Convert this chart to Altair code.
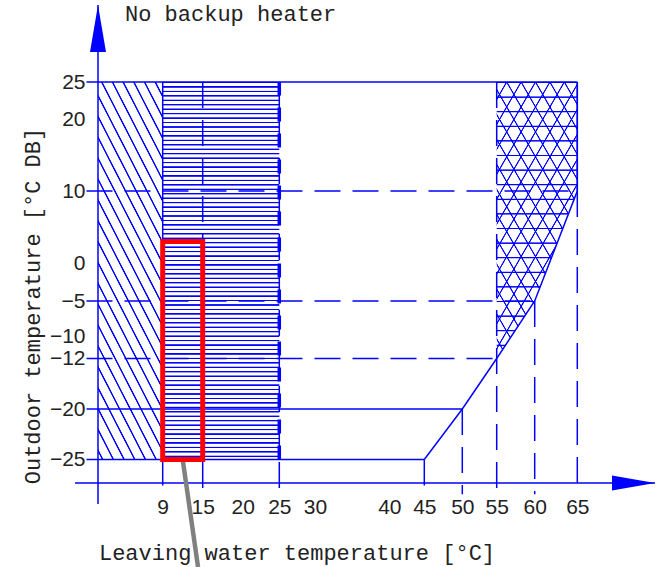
import math
import altair as alt
import numpy as np
import pandas as pd

# ------------------------------------------------------------------
# Data
# ------------------------------------------------------------------
X_TICKS = [9, 15, 20, 25, 30, 40, 45, 50, 55, 60, 65]          # leaving water temp labels
Y_TICKS = [25, 20, 10, 0, -5, -10, -12, -20, -25]               # outdoor temp labels

# upper limit of leaving water temperature vs outdoor temperature
LIMIT_LWT = [45, 50, 55, 60, 65, 65]
LIMIT_OAT = [-25, -20, -12, -5, 10, 25]

# horizontal reference lines: outdoor temp, right end (LWT), solid?
H_OAT = [25, 10, -5, -12, -20, -25]
H_END = [65, 65, 60, 55, 50, 45]
H_SOLID = [True, False, False, False, True, True]

# vertical dashed reference lines: LWT and their top (outdoor temp)
V_LWT = [9, 15, 25, 45, 50, 55, 60, 65]
V_TOP = [-25, 25, 25, -25, -20, 25, -5, 10]

# extra solid edges: (lwt, oat_from, oat_to)
EDGE_LWT = [9, 65]
EDGE_FROM = [-25, 10]
EDGE_TO = [25, 25]

# zones
ZONE_A = dict(x0=0, x1=9, y0=-25, y1=25)      # diagonal hatch
ZONE_B = dict(x0=9, x1=25, y0=-25, y1=25)     # horizontal hatch
ZONE_C_OAT = [25, 10, -5, -12]                # cross hatch (55 .. limit)
ZONE_C_LWT = [65, 65, 60, 55]
ZONE_C_BASE = 55

RED_BOX = dict(x0=9, x1=15, y0=-25, y1=3)
LEADER_LWT = [12, 14.3]
LEADER_OAT = [-25, -42]

# axis geometry in data units
X_START, X_END = -3, 75
Y_START, Y_END = -33, 36
AXIS_AT_LWT = 0
AXIS_AT_OAT = -30
TICK_LEFT = -1.5
TICK_END = -31.6

# schematic (piecewise) scales
X_DOMAIN = [-3, 0, 9, 15, 20, 25, 30, 40, 45, 50, 55, 60, 65, 75]
X_RANGE = [75, 98, 162.7, 202.7, 242.7, 279.3, 315, 389.3, 424.3, 462.3, 496.7, 534.7, 577.3, 655]
Y_DOMAIN = [-33, -30, -25, -20, -12, -10, -5, 0, 10, 20, 25, 36]
Y_RANGE = [504, 483, 459.5, 409, 358.5, 336.3, 301, 263, 191, 119, 82, 5]

BLUE = "#0000ff"
OFF = "rgba(0,0,255,0)"
TXT = "#222222"

# ------------------------------------------------------------------
# hatch patterns as gradient fills
# ------------------------------------------------------------------
def px(v, dom, rng):
    return float(np.interp(v, dom, rng))


def make_stops(centers, hw, aa):
    stops = []
    last = 0.0
    for c in sorted(centers):
        for o, col in ((c - hw - aa, OFF), (c - hw, BLUE), (c + hw, BLUE), (c + hw + aa, OFF)):
            o = round(min(1.0, max(0.0, o)), 6)
            o = max(o, last)
            last = o
            stops.append(alt.GradientStop(color=col, offset=o))
    return stops


def hgrad(h, spacing, phase, hw_px, aa_px):
    centers = []
    k = 0
    while phase + k * spacing <= h:
        centers.append((phase + k * spacing) / h)
        k += 1
    return alt.LinearGradient(gradient="linear", x1=0, y1=0, x2=0, y2=1,
                              stops=make_stops(centers, hw_px / h, aa_px / h))


def dgrad(w, h, s, spacing_x, x0, hw_px, aa_px, mirror=False):
    L = s * w + h
    lam = L / (s * s * w * w + h * h)
    if not mirror:
        x1, y1, x2, y2 = 0, 1, lam * s * w, 1 - lam * h
        base = (s * x0 + h) / L
    else:
        x1, y1, x2, y2 = 1, 1, 1 - lam * s * w, 1 - lam * h
        base = (s * (w - x0) + h) / L
    period = s * spacing_x / L
    kmin = math.floor(-base / period) - 1
    kmax = math.ceil((1 - base) / period) + 1
    centers = [base + k * period for k in range(kmin, kmax + 1) if 0 <= base + k * period <= 1]
    f = math.sqrt(1 + s * s) / L
    return alt.LinearGradient(gradient="linear", x1=x1, y1=y1, x2=x2, y2=y2,
                              stops=make_stops(centers, hw_px * f, aa_px * f))


def box_size(z):
    w = abs(px(z["x1"], X_DOMAIN, X_RANGE) - px(z["x0"], X_DOMAIN, X_RANGE))
    h = abs(px(z["y1"], Y_DOMAIN, Y_RANGE) - px(z["y0"], Y_DOMAIN, Y_RANGE))
    return w, h


wA, hA = box_size(ZONE_A)
gradA = dgrad(wA, hA, 1.95, 10.7, 3.7, 0.4, 0.65)
wB, hB = box_size(ZONE_B)
gradB = hgrad(hB, 4.45, 0.5, 0.45, 0.5)
wC = px(65, X_DOMAIN, X_RANGE) - px(55, X_DOMAIN, X_RANGE)
hC = px(-12, Y_DOMAIN, Y_RANGE) - px(25, Y_DOMAIN, Y_RANGE)
gradC_h = hgrad(hC, 14.6, 0.5, 0.35, 0.6)
gradC_d1 = dgrad(wC, hC, math.sqrt(3), 14.4, 10, 0.3, 0.6)
gradC_d2 = dgrad(wC, hC, math.sqrt(3), 14.4, 10, 0.3, 0.6, mirror=True)

# ------------------------------------------------------------------
# scales / axes
# ------------------------------------------------------------------
XS = alt.Scale(domain=X_DOMAIN, range=X_RANGE, nice=False, zero=False)
YS = alt.Scale(domain=Y_DOMAIN, range=Y_RANGE, nice=False, zero=False)
MINUS = "datum.value < 0 ? '\u2212' + abs(datum.value) : '' + datum.value"
LBL = dict(labelFont="Liberation Sans", labelFontSize=21, labelColor=TXT,
           domain=False, ticks=False, tickSize=0, grid=False, title=None,
           labelOverlap=False, labelFlush=False, labelExpr=MINUS)
XAX = alt.Axis(values=X_TICKS, labelPadding=13, offset=-84, **LBL)
YAX = alt.Axis(values=Y_TICKS, labelPadding=13, offset=-98, **LBL)


def X(f):
    return alt.X(f, type="quantitative", scale=XS, axis=XAX)


def Y(f):
    return alt.Y(f, type="quantitative", scale=YS, axis=YAX)


# ------------------------------------------------------------------
# layers
# ------------------------------------------------------------------
def zone_rect(z, grad):
    return alt.Chart(pd.DataFrame([z])).mark_rect(fill=grad).encode(
        x=X("x0"), x2=alt.X2("x1"), y=Y("y0"), y2=alt.Y2("y1"))


zoneA = zone_rect(ZONE_A, gradA)
zoneB = zone_rect(ZONE_B, gradB)

dfC = pd.DataFrame({"oat": ZONE_C_OAT, "lwt": ZONE_C_LWT, "base": [ZONE_C_BASE] * len(ZONE_C_OAT)})
zoneC = [
    alt.Chart(dfC).mark_area(orient="horizontal", fill=g).encode(
        y=Y("oat"), x=X("lwt"), x2=alt.X2("base"))
    for g in (gradC_h, gradC_d1, gradC_d2)
]

dfH = pd.DataFrame({"y": H_OAT, "x": [TICK_LEFT] * len(H_OAT), "x2": H_END, "solid": H_SOLID})
h_solid = alt.Chart(dfH[dfH.solid]).mark_rule(color=BLUE, strokeWidth=1.5).encode(
    x=X("x"), x2=alt.X2("x2"), y=Y("y"))
h_dash = alt.Chart(dfH[~dfH.solid]).mark_rule(color=BLUE, strokeWidth=1.5, strokeDash=[26, 12]).encode(
    x=X("x"), x2=alt.X2("x2"), y=Y("y"))

dfV = pd.DataFrame({"x": V_LWT, "y": V_TOP, "y2": [TICK_END] * len(V_LWT)})
v_dash = alt.Chart(dfV).mark_rule(color=BLUE, strokeWidth=1.5, strokeDash=[26, 12]).encode(
    x=X("x"), y=Y("y"), y2=alt.Y2("y2"))

dfE = pd.DataFrame({"x": EDGE_LWT, "y": EDGE_FROM, "y2": EDGE_TO})
edges = alt.Chart(dfE).mark_rule(color=BLUE, strokeWidth=1.5).encode(
    x=X("x"), y=Y("y"), y2=alt.Y2("y2"))

thick25 = alt.Chart(pd.DataFrame({"x": [25], "y": [-25], "y2": [25]})).mark_rule(
    color=BLUE, strokeWidth=3.5, strokeDash=[14, 12]).encode(x=X("x"), y=Y("y"), y2=alt.Y2("y2"))

dfL = pd.DataFrame({"lwt": LIMIT_LWT, "oat": LIMIT_OAT, "i": range(len(LIMIT_LWT))})
limit = alt.Chart(dfL).mark_line(color=BLUE, strokeWidth=1.5).encode(
    x=X("lwt"), y=Y("oat"), order=alt.Order("i"))

dfAx = pd.DataFrame({"x": [X_START, AXIS_AT_LWT], "x2": [X_END, AXIS_AT_LWT],
                     "y": [AXIS_AT_OAT, Y_START], "y2": [AXIS_AT_OAT, Y_END]})
axes_lines = alt.Chart(dfAx).mark_rule(color=BLUE, strokeWidth=1.5).encode(
    x=X("x"), x2=alt.X2("x2"), y=Y("y"), y2=alt.Y2("y2"))

arrow_up = alt.Chart(pd.DataFrame({"x": [AXIS_AT_LWT], "y": [Y_END]})).mark_point(
    shape="M0,0L0.34,2L-0.34,2Z", size=2209, filled=True, fill=BLUE, strokeWidth=0, opacity=1
).encode(x=X("x"), y=Y("y"))
arrow_right = alt.Chart(pd.DataFrame({"x": [X_END], "y": [AXIS_AT_OAT]})).mark_point(
    shape="M0,0L-2,-0.35L-2,0.35Z", size=1849, filled=True, fill=BLUE, strokeWidth=0, opacity=1
).encode(x=X("x"), y=Y("y"))

leader = alt.Chart(pd.DataFrame({"x": [LEADER_LWT[0]], "x2": [LEADER_LWT[1]],
                                 "y": [LEADER_OAT[0]], "y2": [LEADER_OAT[1]]})).mark_rule(
    color="#808080", strokeWidth=4.5).encode(x=X("x"), x2=alt.X2("x2"), y=Y("y"), y2=alt.Y2("y2"))

red = alt.Chart(pd.DataFrame([RED_BOX])).mark_rect(
    fillOpacity=0, stroke="#ff0000", strokeWidth=5).encode(
    x=X("x0"), x2=alt.X2("x1"), y=Y("y0"), y2=alt.Y2("y1"))

TF = dict(font="Liberation Mono", fontSize=22, color=TXT)
t_top = alt.Chart(pd.DataFrame({"t": ["No backup heater"]})).mark_text(
    align="left", baseline="alphabetic", **TF).encode(x=alt.value(125), y=alt.value(21), text="t:N")
t_x = alt.Chart(pd.DataFrame({"t": ["Leaving water temperature [°C]"]})).mark_text(
    align="center", baseline="alphabetic", **TF).encode(x=alt.value(297), y=alt.value(560), text="t:N")
t_y = alt.Chart(pd.DataFrame({"t": ["Outdoor temperature [°C DB]"]})).mark_text(
    align="center", baseline="alphabetic", angle=270, **TF).encode(x=alt.value(39.5), y=alt.value(306), text="t:N")

chart = alt.layer(
    zoneA, zoneB, *zoneC,
    h_dash, v_dash, h_solid, edges, limit, thick25,
    axes_lines, arrow_up, arrow_right,
    t_top, t_x, t_y,
    leader, red,
).properties(
    width=656, height=567, padding=0,
    autosize=alt.AutoSizeParams(type="none"),
    background="white",
).configure_view(stroke=None)

chart.save("out.html", embed_options={"renderer": "svg", "actions": False})
